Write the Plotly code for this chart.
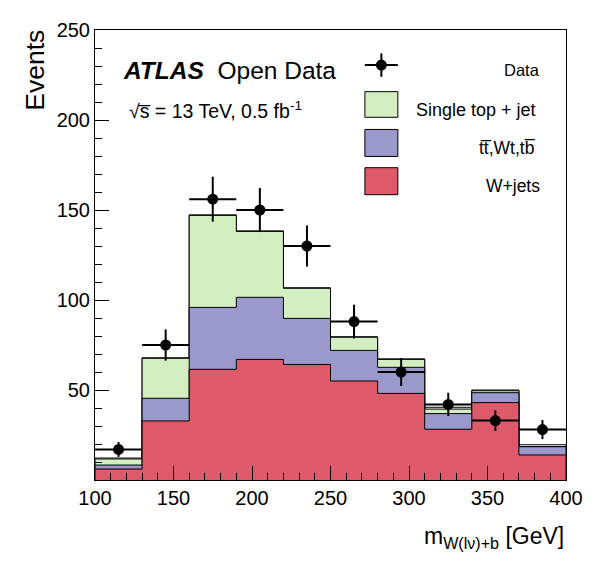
import plotly.graph_objects as go

# Binning of the reconstructed W(lv)+b mass [GeV]
bin_edges = [100, 130, 160, 190, 220, 250, 280, 310, 340, 370, 400]

# Observed events per bin
data_counts = [17, 75, 156, 150, 130, 88, 60, 42, 33, 28]

# MC expectations per bin (individual contributions, stacked bottom -> top)
wjets = [6.1, 32.8, 61.5, 67.0, 64.2, 55.0, 48.1, 28.2, 43.0, 13.9]
ttbar = [2.2, 12.6, 34.4, 34.5, 25.6, 17.0, 14.5, 8.7, 5.5, 4.6]
single_top = [3.4, 22.2, 51.1, 36.6, 16.7, 7.3, 4.4, 2.5, 1.1, 0.1]
other = [0.5, 0.3, 0.3, 0.3, 0.3, 0.3, 0.3, 1.0, 0.4, 1.0]

FONT = "Liberation Sans, Arial, Helvetica, sans-serif"
BAR = "\u0305"  # combining overline

# stack components: (name, values, fill colour)
stack = [
    ("W+jets", wjets, "#de5a6b"),
    ("ttbar", ttbar, "#9b98cb"),
    ("Single top + jet", single_top, "#d3efc2"),
    ("Other", other, "#ffffff"),
]


def step_path(edges, values):
    # closed ROOT-like histogram contour: up at first edge, steps, down at last edge
    xs = [edges[0]] + edges[:-1] + [edges[-1], edges[-1]]
    ys = [0] + list(values) + [values[-1], 0]
    return xs, ys


# cumulative sums for the stack
cumulative = []
running = [0.0] * len(wjets)
for name, vals, color in stack:
    running = [a + b for a, b in zip(running, vals)]
    cumulative.append((name, list(running), color))

fig = go.Figure()

# draw from the top of the stack down so lower components overlay the higher ones
for name, cum, color in reversed(cumulative):
    xs, ys = step_path(bin_edges, cum)
    fig.add_trace(go.Scatter(
        x=xs, y=ys, mode="lines", line=dict(color="black", width=1, shape="hv"),
        fill="toself", fillcolor=color, name=name, showlegend=False, hoverinfo="skip",
    ))

centers = [(a + b) / 2 for a, b in zip(bin_edges[:-1], bin_edges[1:])]
half_widths = [(b - a) / 2 for a, b in zip(bin_edges[:-1], bin_edges[1:])]
fig.add_trace(go.Scatter(
    x=centers, y=data_counts, mode="markers",
    marker=dict(color="black", size=11),
    error_y=dict(type="data", array=[n ** 0.5 for n in data_counts], color="black", thickness=2, width=0),
    error_x=dict(type="data", array=half_widths, color="black", thickness=2, width=0),
    name="Data", showlegend=False,
))

# --- hand-made ROOT style legend (paper coordinates) ---
shapes = []
legend_boxes = [
    ("#d3efc2", 0.806, 0.863),
    ("#9b98cb", 0.719, 0.779),
    ("#de5a6b", 0.634, 0.694),
]
for color, y0, y1 in legend_boxes:
    shapes.append(dict(type="rect", xref="paper", yref="paper", x0=0.573, x1=0.643, y0=y0, y1=y1,
                       fillcolor=color, line=dict(color="black", width=1)))
# data marker in legend
shapes.append(dict(type="line", xref="paper", yref="paper", x0=0.573, x1=0.643, y0=0.922, y1=0.922,
                   line=dict(color="black", width=2)))
shapes.append(dict(type="line", xref="paper", yref="paper", x0=0.608, x1=0.608, y0=0.896, y1=0.948,
                   line=dict(color="black", width=2)))
shapes.append(dict(type="circle", xref="paper", yref="paper", x0=0.608 - 0.0117, x1=0.608 + 0.0117,
                   y0=0.922 - 0.0122, y1=0.922 + 0.0122, fillcolor="black", line=dict(color="black", width=0)))

annotations = [
    dict(text="<b><i>ATLAS</i></b>  Open Data", x=0.055, y=0.91, xanchor="left", yanchor="middle",
         font=dict(size=24.5)),
    dict(text="√s" + BAR + " = 13 TeV, 0.5 fb<sup>-1</sup>", x=0.068, y=0.823,
         xanchor="left", yanchor="middle", font=dict(size=19.5)),
    dict(text="Data", x=0.948, y=0.91, xanchor="right", yanchor="middle", font=dict(size=16.5)),
    dict(text="Single top + jet", x=0.94, y=0.823, xanchor="right", yanchor="middle", font=dict(size=18)),
    dict(text="tt" + BAR + ",Wt,tb" + BAR, x=0.94, y=0.737, xanchor="right",
         yanchor="middle", font=dict(size=17.5)),
    dict(text="W+jets", x=0.948, y=0.654, xanchor="right", yanchor="middle", font=dict(size=17.5)),
    dict(text="Events", x=-0.127, y=0.91, textangle=-90, xanchor="center", yanchor="middle",
         font=dict(size=26.5)),
    dict(text="m<sub>W(lν)+b</sub> [GeV]", x=1.0, y=-0.128, xanchor="right", yanchor="middle",
         font=dict(size=23)),
]
for a in annotations:
    a.update(xref="paper", yref="paper", showarrow=False)
    a["font"].update(family=FONT, color="black")

# the html page adds an 8px body margin, so the plot area is shifted back by 8px
fig.update_layout(
    width=596, height=572,
    margin=dict(l=87, r=38, t=22, b=100),
    plot_bgcolor="white", paper_bgcolor="white",
    font=dict(family=FONT, color="black", size=20),
    shapes=shapes, annotations=annotations, showlegend=False,
)
fig.update_xaxes(
    range=[100, 400], tickmode="array", tickvals=[100, 150, 200, 250, 300, 350, 400],
    ticks="inside", ticklen=14, tickcolor="black", showgrid=False, zeroline=False,
    showline=True, linecolor="black", linewidth=1, mirror=True, automargin=False,
    minor=dict(tick0=0, dtick=10, ticks="inside", ticklen=7, tickcolor="black", showgrid=False),
    tickfont=dict(size=20),
)
fig.update_yaxes(
    range=[0, 250], tickmode="array", tickvals=[50, 100, 150, 200, 250],
    ticks="inside", ticklen=14, tickcolor="black", showgrid=False, zeroline=False,
    showline=True, linecolor="black", linewidth=1, mirror=True, automargin=False,
    minor=dict(tick0=0, dtick=10, ticks="inside", ticklen=7, tickcolor="black", showgrid=False),
    tickfont=dict(size=20),
)

fig.write_html("out.html")
